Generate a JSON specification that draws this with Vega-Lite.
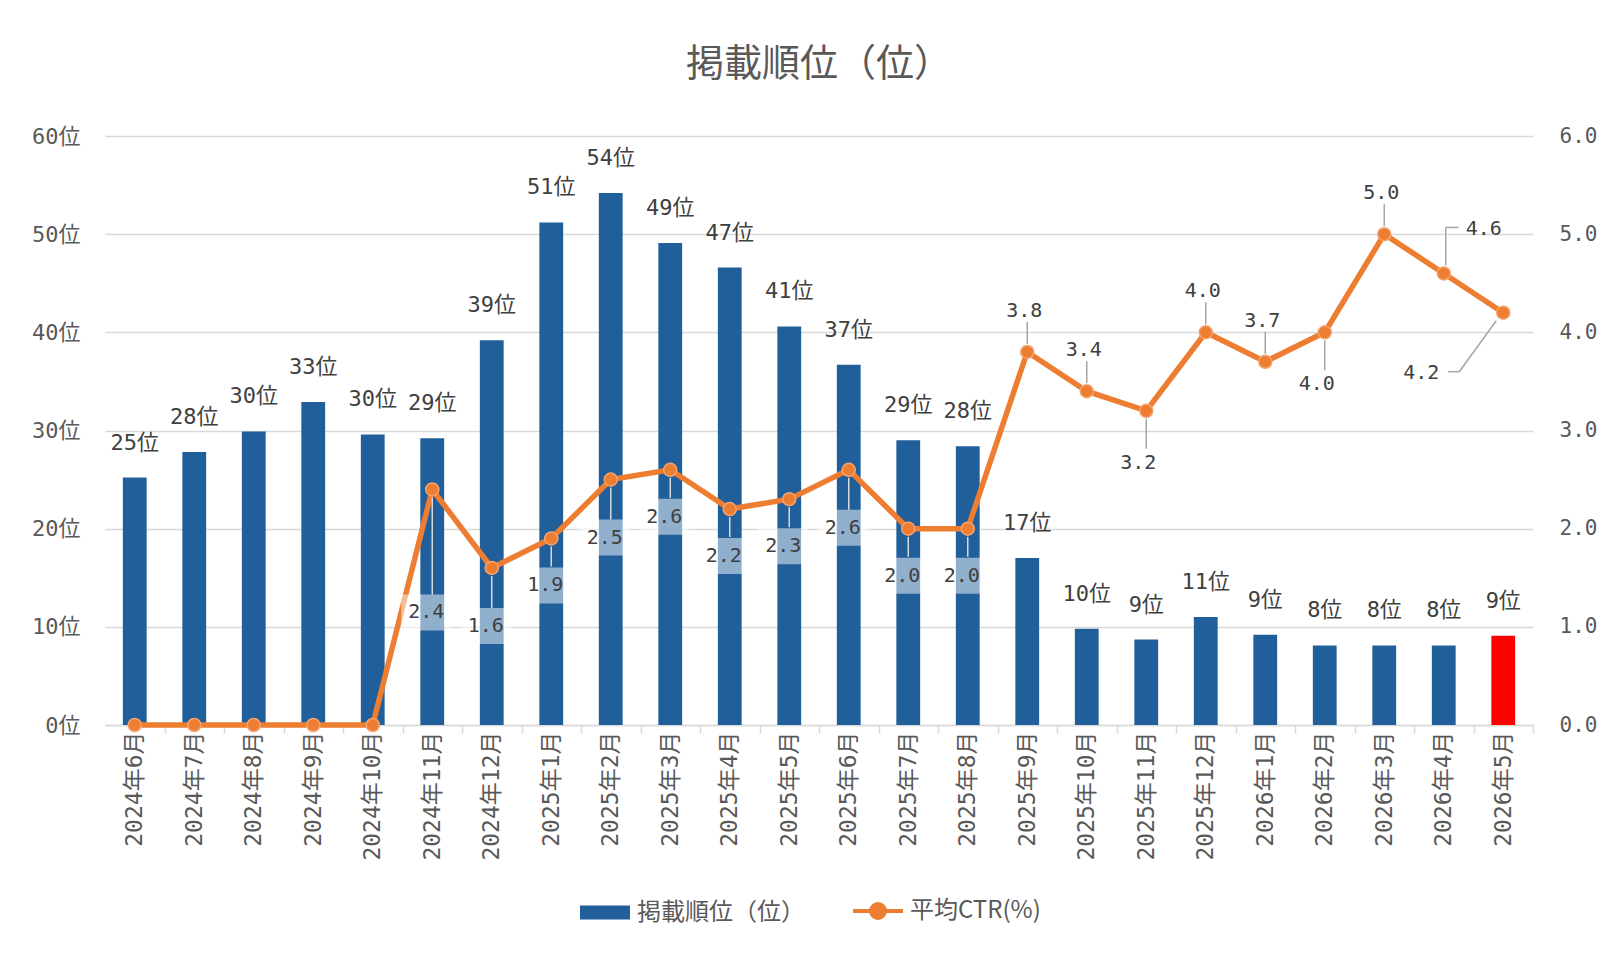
{
  "$schema": "https://vega.github.io/schema/vega-lite/v6.json",
  "width": 1428,
  "height": 589,
  "autosize": {"type": "none"},
  "padding": {"left": 105, "top": 136, "right": 84, "bottom": 244},
  "background": "white",
  "title": {
    "text": "掲載順位（位）",
    "font": "Noto Sans CJK JP",
    "fontSize": 38,
    "fontWeight": "normal",
    "color": "#595959",
    "anchor": "middle",
    "offset": 41
  },
  "data": {
    "values": [
      {"month": "2024年6月", "rank": 25.2, "ctr": 0},
      {"month": "2024年7月", "rank": 27.8, "ctr": 0},
      {"month": "2024年8月", "rank": 29.9, "ctr": 0},
      {"month": "2024年9月", "rank": 32.9, "ctr": 0},
      {"month": "2024年10月", "rank": 29.6, "ctr": 0},
      {"month": "2024年11月", "rank": 29.2, "ctr": 2.4},
      {"month": "2024年12月", "rank": 39.2, "ctr": 1.6},
      {"month": "2025年1月", "rank": 51.2, "ctr": 1.9},
      {"month": "2025年2月", "rank": 54.2, "ctr": 2.5},
      {"month": "2025年3月", "rank": 49.1, "ctr": 2.6},
      {"month": "2025年4月", "rank": 46.6, "ctr": 2.2},
      {"month": "2025年5月", "rank": 40.6, "ctr": 2.3},
      {"month": "2025年6月", "rank": 36.7, "ctr": 2.6},
      {"month": "2025年7月", "rank": 29.0, "ctr": 2.0},
      {"month": "2025年8月", "rank": 28.4, "ctr": 2.0},
      {"month": "2025年9月", "rank": 17.0, "ctr": 3.8},
      {"month": "2025年10月", "rank": 9.8, "ctr": 3.4},
      {"month": "2025年11月", "rank": 8.7, "ctr": 3.2},
      {"month": "2025年12月", "rank": 11.0, "ctr": 4.0},
      {"month": "2026年1月", "rank": 9.2, "ctr": 3.7},
      {"month": "2026年2月", "rank": 8.1, "ctr": 4.0},
      {"month": "2026年3月", "rank": 8.1, "ctr": 5.0},
      {"month": "2026年4月", "rank": 8.1, "ctr": 4.6},
      {"month": "2026年5月", "rank": 9.1, "ctr": 4.2}
    ]
  },
  "encoding": {
    "x": {
      "field": "month",
      "type": "ordinal",
      "title": null,
      "scale": {
        "domain": ["2024年6月", "2024年7月", "2024年8月", "2024年9月", "2024年10月", "2024年11月", "2024年12月", "2025年1月", "2025年2月", "2025年3月", "2025年4月", "2025年5月", "2025年6月", "2025年7月", "2025年8月", "2025年9月", "2025年10月", "2025年11月", "2025年12月", "2026年1月", "2026年2月", "2026年3月", "2026年4月", "2026年5月"],
        "paddingInner": 0.6,
        "paddingOuter": 0.3
      },
      "axis": {
        "labelAngle": -90,
        "labelFont": "DejaVu Sans Mono, Noto Sans CJK JP",
        "labelFontSize": 23,
        "labelColor": "#595959",
        "labelPadding": -2,
        "tickSize": 8,
        "tickColor": "#D9D9D9",
        "tickWidth": 1.5,
        "tickOffset": 29.75,
        "labelOffset": -29.75,
        "domainColor": "#D9D9D9",
        "domainWidth": 1.5,
        "grid": false
      }
    }
  },
  "layer": [
    {
      "encoding": {
        "y": {
          "field": "rank",
          "type": "quantitative",
          "title": null,
          "scale": {"domain": [0, 60], "nice": false},
          "axis": {
            "orient": "left",
            "values": [0, 10, 20, 30, 40, 50, 60],
            "labelExpr": "datum.value + '位'",
            "labelFont": "DejaVu Sans Mono, Noto Sans CJK JP",
            "labelFontSize": 22,
            "labelColor": "#595959",
            "labelPadding": 25,
            "domain": false,
            "ticks": false,
            "grid": true,
            "gridColor": "#D9D9D9",
            "gridWidth": 1.5
          }
        }
      },
      "layer": [
        {
          "mark": {"type": "bar"},
          "encoding": {
            "color": {
              "condition": {"test": "datum.month === '2026年5月'", "value": "#FF0000"},
              "datum": "掲載順位（位）",
              "type": "nominal",
              "scale": {"domain": ["掲載順位（位）", "平均CTR(%)"], "range": ["#215F9A", "#ED7D31"]},
              "legend": {
                "orient": "none",
                "legendX": 488,
                "legendY": 763,
                "direction": "horizontal",
                "title": null,
                "labelFont": "Noto Sans CJK JP",
                "labelFontSize": 24,
                "labelColor": "#595959",
                "labelLimit": 400,
                "labelOffset": 20,
                "columnPadding": 40,
                "symbolSize": 2500,
                "encode": {
                  "symbols": {
                    "update": {
                      "shape": {"signal": "datum.value === '平均CTR(%)' ? 'M-1,0H1M-0.28,0A0.28,0.28,0,1,0,0.28,0A0.28,0.28,0,1,0,-0.28,0Z' : 'M-1,-0.28H1V0.28H-1Z'"},
                      "fill": {"signal": "scale('color', datum.value)"},
                      "stroke": {"signal": "scale('color', datum.value)"},
                      "strokeWidth": {"signal": "datum.value === '平均CTR(%)' ? 4 : 0"},
                      "opacity": {"value": 1}
                    }
                  }
                }
              }
            }
          }
        },
        {
          "transform": [{"calculate": "format(datum.rank, '.0f') + '位'", "as": "rank_label"}],
          "mark": {"type": "text", "dy": -35, "font": "DejaVu Sans Mono, Noto Sans CJK JP", "fontSize": 22, "color": "#404040"},
          "encoding": {"text": {"field": "rank_label"}}
        }
      ]
    },
    {
      "encoding": {
        "y": {
          "field": "ctr",
          "type": "quantitative",
          "title": null,
          "scale": {"domain": [0, 6], "nice": false},
          "axis": {
            "orient": "right",
            "values": [0, 1, 2, 3, 4, 5, 6],
            "format": ".1f",
            "labelFont": "DejaVu Sans Mono",
            "labelFontSize": 21,
            "labelColor": "#595959",
            "labelPadding": 26,
            "domain": false,
            "ticks": false,
            "grid": false
          }
        }
      },
      "layer": [
        {
          "mark": {"type": "line", "strokeWidth": 5.5},
          "encoding": {"color": {"datum": "平均CTR(%)", "type": "nominal"}}
        },
        {
          "mark": {"type": "circle", "size": 170, "color": "#ED7D31", "opacity": 1, "stroke": "#F4A470", "strokeWidth": 1.5}
        },
        {
          "transform": [{"filter": "indexof(['2025年1月','2025年3月','2025年4月','2025年5月','2025年7月','2025年8月'], datum.month) >= 0"}],
          "mark": {"type": "rule", "color": "#D9D9D9", "strokeWidth": 1.5, "yOffset": 8, "y2Offset": 28},
          "encoding": {"y2": {"field": "ctr"}}
        },
        {
          "transform": [{"filter": "indexof(['2024年12月','2025年2月','2025年6月'], datum.month) >= 0"}],
          "mark": {"type": "rule", "color": "#D9D9D9", "strokeWidth": 1.5, "yOffset": 8, "y2Offset": 40},
          "encoding": {"y2": {"field": "ctr"}}
        },
        {
          "transform": [{"filter": "datum.month === '2024年11月'"}],
          "mark": {"type": "rule", "color": "#D9D9D9", "strokeWidth": 1.5, "yOffset": 8, "y2Offset": 105},
          "encoding": {"y2": {"field": "ctr"}}
        },
        {
          "transform": [{"filter": "indexof(['2025年9月','2025年10月','2025年12月','2026年1月','2026年3月'], datum.month) >= 0"}],
          "mark": {"type": "rule", "color": "#A6A6A6", "strokeWidth": 1.5, "yOffset": -8, "y2Offset": -30},
          "encoding": {"y2": {"field": "ctr"}}
        },
        {
          "transform": [{"filter": "indexof(['2025年11月','2026年2月'], datum.month) >= 0"}],
          "mark": {"type": "rule", "color": "#A6A6A6", "strokeWidth": 1.5, "yOffset": 8, "y2Offset": 38},
          "encoding": {"y2": {"field": "ctr"}}
        },
        {
          "transform": [{"filter": "datum.month === '2026年4月'"}],
          "mark": {"type": "rule", "color": "#A6A6A6", "strokeWidth": 1.5, "xOffset": 2, "yOffset": -8, "y2Offset": -46},
          "encoding": {"y2": {"field": "ctr"}}
        },
        {
          "transform": [{"filter": "datum.month === '2026年4月'"}],
          "mark": {"type": "tick", "color": "#A6A6A6", "thickness": 1.5, "size": 13, "xOffset": 8.5, "yOffset": -46, "opacity": 1}
        },
        {
          "transform": [{"filter": "datum.month === '2026年5月'"}],
          "mark": {"type": "rule", "color": "#A6A6A6", "strokeWidth": 1.5, "xOffset": -7, "yOffset": 8, "x2Offset": -44, "y2Offset": 59},
          "encoding": {"x2": {"field": "month"}, "y2": {"field": "ctr"}}
        },
        {
          "transform": [{"filter": "datum.month === '2026年5月'"}],
          "mark": {"type": "tick", "color": "#A6A6A6", "thickness": 1.5, "size": 11, "xOffset": -49.5, "yOffset": 59, "opacity": 1}
        },
        {
          "transform": [{"filter": "indexof(['2025年1月','2025年3月','2025年4月','2025年5月','2025年7月','2025年8月'], datum.month) >= 0"}],
          "mark": {"type": "point", "shape": "M-1,-0.72H1V0.72H-1Z", "size": 2500, "filled": true, "color": "white", "opacity": 0.5, "strokeWidth": 0, "xOffset": -6, "yOffset": 47}
        },
        {
          "transform": [{"filter": "indexof(['2024年12月','2025年2月','2025年6月'], datum.month) >= 0"}],
          "mark": {"type": "point", "shape": "M-1,-0.72H1V0.72H-1Z", "size": 2500, "filled": true, "color": "white", "opacity": 0.5, "strokeWidth": 0, "xOffset": -6, "yOffset": 58}
        },
        {
          "transform": [{"filter": "datum.month === '2024年11月'"}],
          "mark": {"type": "point", "shape": "M-1,-0.72H1V0.72H-1Z", "size": 2500, "filled": true, "color": "white", "opacity": 0.5, "strokeWidth": 0, "xOffset": -6, "yOffset": 123}
        },
        {
          "transform": [{"filter": "indexof(['2025年1月','2025年3月','2025年4月','2025年5月','2025年7月','2025年8月'], datum.month) >= 0"}],
          "mark": {"type": "text", "font": "DejaVu Sans Mono", "fontSize": 20, "color": "#404040", "dx": -6, "dy": 47},
          "encoding": {"text": {"field": "ctr", "format": ".1f"}}
        },
        {
          "transform": [{"filter": "indexof(['2024年12月','2025年2月','2025年6月'], datum.month) >= 0"}],
          "mark": {"type": "text", "font": "DejaVu Sans Mono", "fontSize": 20, "color": "#404040", "dx": -6, "dy": 58},
          "encoding": {"text": {"field": "ctr", "format": ".1f"}}
        },
        {
          "transform": [{"filter": "datum.month === '2024年11月'"}],
          "mark": {"type": "text", "font": "DejaVu Sans Mono", "fontSize": 20, "color": "#404040", "dx": -6, "dy": 123},
          "encoding": {"text": {"field": "ctr", "format": ".1f"}}
        },
        {
          "transform": [{"filter": "indexof(['2025年9月','2025年10月','2025年12月','2026年1月','2026年3月'], datum.month) >= 0"}],
          "mark": {"type": "text", "font": "DejaVu Sans Mono", "fontSize": 20, "color": "#404040", "dx": -3, "dy": -41},
          "encoding": {"text": {"field": "ctr", "format": ".1f"}}
        },
        {
          "transform": [{"filter": "indexof(['2025年11月','2026年2月'], datum.month) >= 0"}],
          "mark": {"type": "text", "font": "DejaVu Sans Mono", "fontSize": 20, "color": "#404040", "dx": -8, "dy": 52},
          "encoding": {"text": {"field": "ctr", "format": ".1f"}}
        },
        {
          "transform": [{"filter": "datum.month === '2026年4月'"}],
          "mark": {"type": "text", "font": "DejaVu Sans Mono", "fontSize": 20, "color": "#404040", "dx": 40, "dy": -44},
          "encoding": {"text": {"field": "ctr", "format": ".1f"}}
        },
        {
          "transform": [{"filter": "datum.month === '2026年5月'"}],
          "mark": {"type": "text", "font": "DejaVu Sans Mono", "fontSize": 20, "color": "#404040", "dx": -82, "dy": 60},
          "encoding": {"text": {"field": "ctr", "format": ".1f"}}
        }
      ]
    }
  ],
  "resolve": {"scale": {"y": "independent"}},
  "config": {
    "view": {"stroke": null},
    "font": "DejaVu Sans Mono"
  }
}
